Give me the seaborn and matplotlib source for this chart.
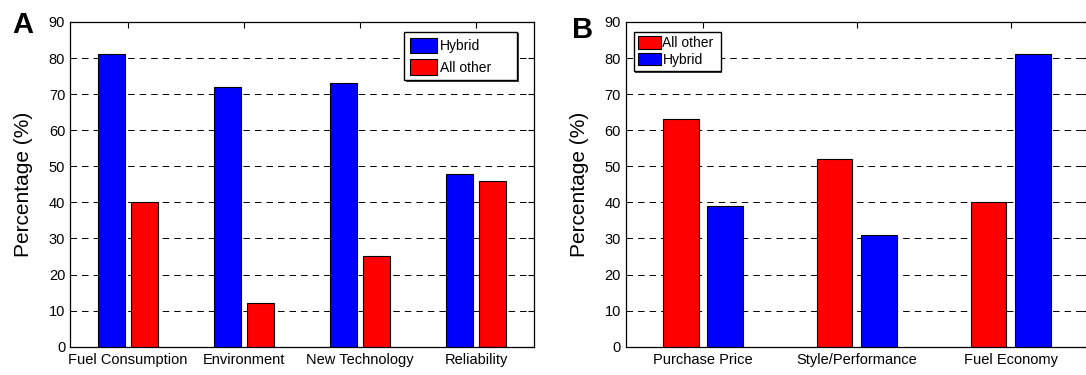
import matplotlib
matplotlib.use("Agg")
import matplotlib.pyplot as plt
import seaborn as sns
import pandas as pd
from matplotlib.patches import Patch

# ---------------- data ----------------
cats_a = ["Fuel Consumption", "Environment", "New Technology", "Reliability"]
hybrid_a = [81, 72, 73, 48]
other_a = [40, 12, 25, 46]

cats_b = ["Purchase Price", "Style/Performance", "Fuel Economy"]
other_b = [63, 52, 40]
hybrid_b = [39, 31, 81]

order_a = ["Hybrid", "All other"]
order_b = ["All other", "Hybrid"]
yticks = list(range(0, 91, 10))
ylabel = "Percentage (%)"

colors = {"Hybrid": "#0000ff", "All other": "#ff0000"}

# ---------------- style ----------------
sns.set_style("white")
plt.rcParams["font.family"] = ["Liberation Sans", "DejaVu Sans"]
plt.rcParams["lines.scale_dashes"] = False
plt.rcParams["text.color"] = "black"
plt.rcParams["axes.labelcolor"] = "black"
plt.rcParams["xtick.color"] = "black"
plt.rcParams["ytick.color"] = "black"

fig = plt.figure(figsize=(10.86, 3.75), dpi=100)
axA = fig.add_axes([0.0645, 0.0755, 0.4273, 0.8659])
axB = fig.add_axes([0.5764, 0.0755, 0.4254, 0.8659])


def make_df(cats, series):
    rows = []
    for name, vals in series.items():
        for c, v in zip(cats, vals):
            rows.append({"Category": c, "Group": name, "Value": v})
    return pd.DataFrame(rows)


dfA = make_df(cats_a, {"Hybrid": hybrid_a, "All other": other_a})
dfB = make_df(cats_b, {"All other": other_b, "Hybrid": hybrid_b})


def draw(ax, df, cats, hue_order, legend_bbox, leg_kw, label_x):
    sns.barplot(data=df, x="Category", y="Value", hue="Group",
                order=cats, hue_order=hue_order, palette=colors,
                width=0.58, gap=0.2, saturation=1, errorbar=None,
                edgecolor="black", linewidth=0.8, ax=ax, legend=False)
    ax.set_xlim(-0.5, len(cats) - 0.5)
    ax.set_ylim(0, 90)
    ax.set_yticks(yticks)
    ax.set_xlabel("")
    ax.set_ylabel(ylabel, fontsize=15, color="black")
    ax.yaxis.set_label_coords(label_x, 0.5)
    ax.set_axisbelow(True)
    ax.yaxis.grid(True, color="black", linestyle=(0, (4.7, 3.6)), linewidth=0.7)
    ax.xaxis.grid(False)
    ax.tick_params(axis="both", direction="in", length=4, width=0.8,
                   top=True, right=True, labelsize=10.5, colors="black")
    ax.tick_params(axis="x", pad=4.5)
    ax.tick_params(axis="y", pad=3.5)
    for s in ax.spines.values():
        s.set_visible(True)
        s.set_color("black")
        s.set_linewidth(0.9)
    handles = [Patch(facecolor=colors[n], edgecolor="black", linewidth=0.8) for n in hue_order]
    leg = ax.legend(handles, hue_order, loc="upper left", bbox_to_anchor=legend_bbox,
                    mode="expand", borderaxespad=0, fontsize=10, fancybox=False,
                    edgecolor="black", framealpha=1,
                    shadow={"ox": 1, "oy": -1, "facecolor": "0.25",
                            "edgecolor": "none", "alpha": 1},
                    **leg_kw)
    leg.get_frame().set_linewidth(1.0)
    for t in leg.get_texts():
        t.set_color("black")


draw(axA, dfA, cats_a, order_a, (0.720, 0.797, 0.2435, 0.172),
     dict(handlelength=2.0, handleheight=1.35, labelspacing=0.43,
          handletextpad=0.2, borderpad=0.4), -37 / 464)
draw(axB, dfB, cats_b, order_b, (0.0173, 0.843, 0.188, 0.126),
     dict(handlelength=1.65, handleheight=1.0, labelspacing=0.2,
          handletextpad=0.1, borderpad=0.3), -37 / 462)

fig.text(12.7 / 1086, 1 - 33.3 / 375, "A", fontsize=21, fontweight="bold",
         color="black", ha="left", va="baseline")
fig.text(572 / 1086, 1 - 38.3 / 375, "B", fontsize=21, fontweight="bold",
         color="black", ha="left", va="baseline")

fig.savefig("out.png", dpi=100)
